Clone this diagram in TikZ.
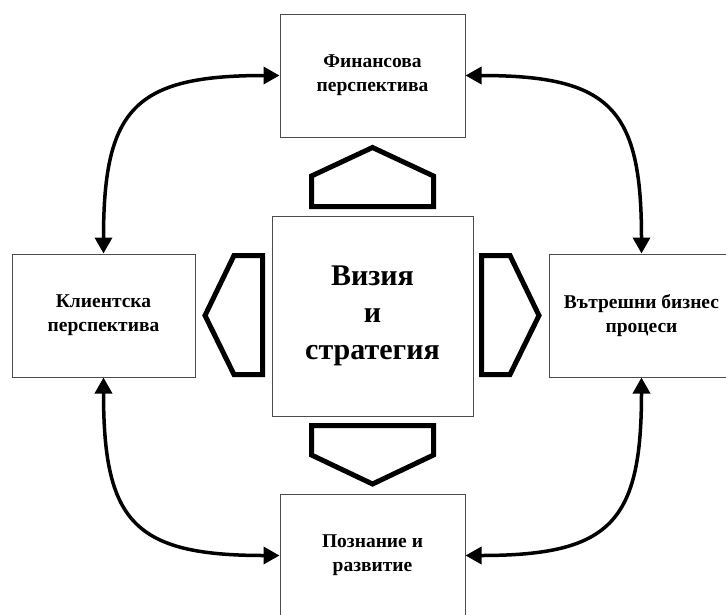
\documentclass[tikz,border=0pt]{standalone}
\usepackage{fontspec}
\setmainfont{Liberation Serif}
\usetikzlibrary{arrows.meta}
\tikzset{
  box/.style={draw=black!70, line width=1pt, fill=white, rectangle, inner sep=0pt,
    minimum width=185pt, minimum height=123pt, align=center,
    font=\bfseries\fontsize{19.5}{24}\selectfont},
  bigbox/.style={box, minimum width=201pt, minimum height=200pt,
    font=\bfseries\fontsize{30}{37}\selectfont},
  pent/.style={draw=black, line width=5pt, miter limit=10, line join=miter},
  link/.style={line width=3.5pt, {Triangle[length=16pt,width=17pt]}-{Triangle[length=16pt,width=17pt]}}
}
\begin{document}
\begin{tikzpicture}[x=1pt,y=-1pt]
\useasboundingbox (0,0) rectangle (726,614);
\begin{scope}
\clip (0,0) rectangle (726,614);
\node[box] (fin) at (372.5,75.5) {Финансова\\перспектива};
\node[box, minimum width=183pt] (cli) at (103.5,315.5) {Клиентска\\перспектива};
\node[box] (int) at (641.5,315.5) {Вътрешни бизнес\\процеси};
\node[box] (lea) at (372.5,555.5) {Познание и\\развитие};
\node[bigbox] (vis) at (372.5,316) {Визия\\и\\стратегия};
\end{scope}
% pentagons
\draw[pent] (311.5,206.5) -- (311.5,176) -- (372.5,147.5) -- (433.5,176) -- (433.5,206.5) -- cycle;
\draw[pent] (311.5,425.5) -- (433.5,425.5) -- (433.5,455) -- (372.5,484) -- (311.5,455) -- cycle;
\draw[pent] (262.5,255.5) -- (234,255.5) -- (205,315.5) -- (234,374.5) -- (262.5,374.5) -- cycle;
\draw[pent] (481.5,255.5) -- (510,255.5) -- (539,315.5) -- (510,374.5) -- (481.5,374.5) -- cycle;
% connectors
\draw[link] (fin.west) .. controls +(-145,0) and +(0,-145) .. (cli.north);
\draw[link] (fin.east) .. controls +(145,0) and +(0,-145) .. (int.north);
\draw[link] (cli.south) .. controls +(0,145) and +(-145,0) .. (lea.west);
\draw[link] (int.south) .. controls +(0,145) and +(145,0) .. (lea.east);
\end{tikzpicture}
\end{document}
